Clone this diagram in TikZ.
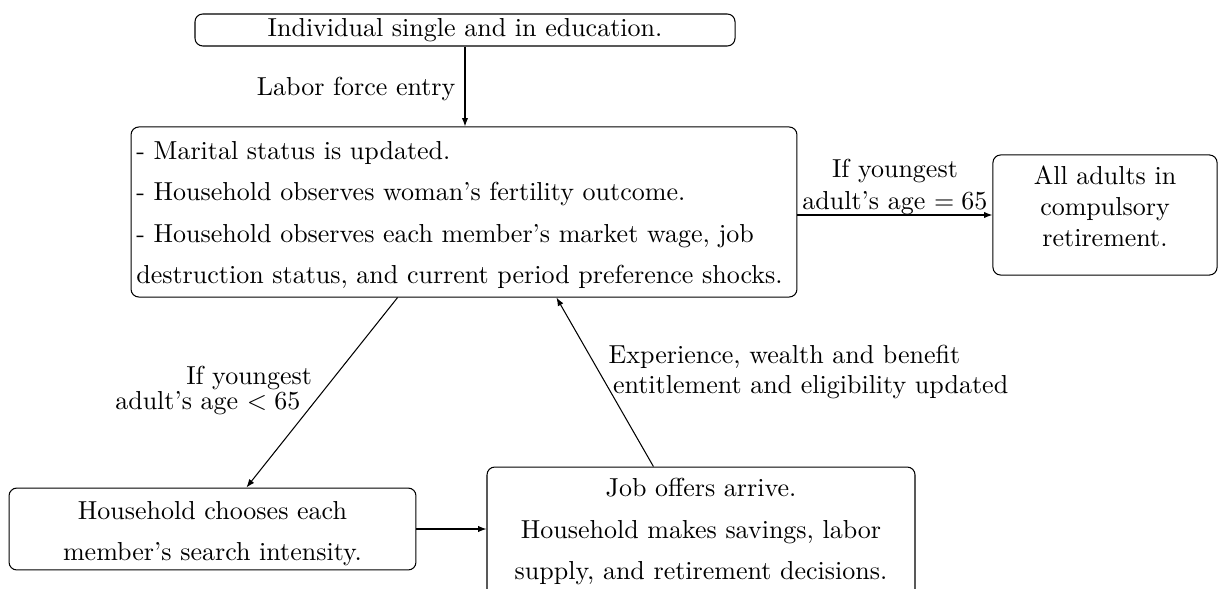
\documentclass[tikz,border=0pt]{standalone}
\usetikzlibrary{arrows.meta}
\begin{document}
\begin{tikzpicture}[x=0.3846pt,y=-0.3846pt,
  box/.style={draw, rounded corners=3pt, inner sep=0pt, align=center},
  arr/.style={-{Latex[length=3.2pt,width=2.4pt]}}]
\useasboundingbox (0,0) rectangle (1219,589);
\node[box, minimum width=207.7pt, minimum height=12.3pt] (top) at (465,30)
  {Individual single and in education.};
\node[box, minimum width=256.1pt, minimum height=65.4pt, inner xsep=2pt, text width=252pt, align=left] (mid) at (464,212)
  {\rule{0pt}{9.2pt}- Marital status is updated.\\[4pt]
   - Household observes woman's fertility outcome.\\[4pt]
   - Household observes each member's market wage, job\\[4pt]
   destruction status, and current period preference shocks.};
\node[box, minimum width=86.2pt, minimum height=46.2pt] (ret) at (1105,215)
  {All adults in\\ compulsory\\ retirement.\rule[-7pt]{0pt}{1pt}};
\node[box, minimum width=156.5pt, minimum height=31.5pt] (bl) at (212.5,529)
  {\rule{0pt}{10.5pt}Household chooses each\\[4pt] member's search intensity.};
\node[box, minimum width=164.6pt, minimum height=51.9pt] (br) at (701,534.5)
  {Job offers arrive.\\[4pt] Household makes savings, labor\\[4pt] supply, and retirement decisions.\rule[-4.3pt]{0pt}{1pt}};
\draw[arr] (top.south) -- (top.south |- mid.north)
  node[pos=0.53, left, inner sep=3.5pt] {Labor force entry};
\draw[arr] (ret.west -| mid.east) -- (ret.west)
  node[midway, above, align=center, inner sep=0pt] {If youngest\\ adult's age $=65$};
\draw[arr] ([xshift=102.7pt]mid.south west) -- ([xshift=91.5pt]bl.north west)
  node[pos=0.49, left, align=right, inner xsep=8.7pt, inner ysep=0pt] {If youngest\hspace*{-4.5pt}\\[-2.5pt] adult's age $<65$};
\draw[arr] ([xshift=64.2pt]br.north west) -- ([xshift=163.8pt]mid.south west)
  node[pos=0.56, right, align=left, inner sep=3.5pt] {Experience, wealth and benefit\\[-0.5pt] \,entitlement and eligibility updated};
\draw[arr] (bl.east) -- (bl.east -| br.west);
\end{tikzpicture}
\end{document}
